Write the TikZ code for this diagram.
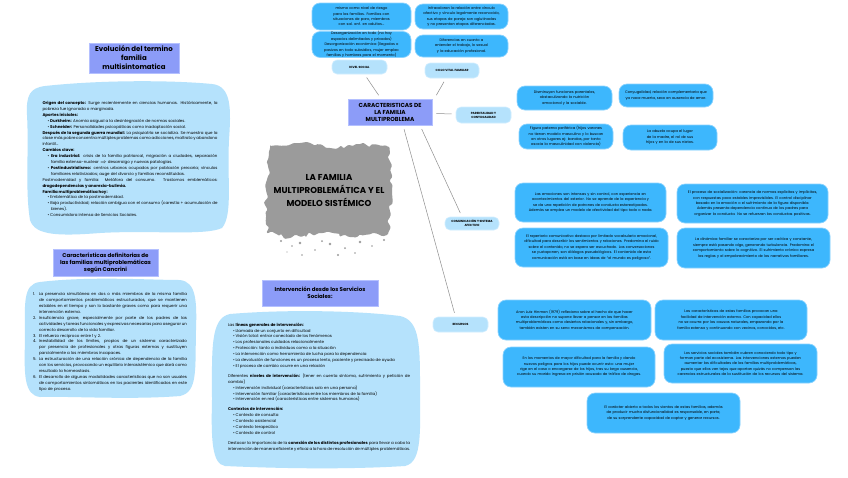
\documentclass[tikz,border=0pt]{standalone}
\usepackage{fontspec}
\setmainfont{Poppins}
\usetikzlibrary{decorations.pathmorphing}

\definecolor{peri}{HTML}{8C9CF8}
\definecolor{periedge}{HTML}{B4C0FF}
\definecolor{pale}{HTML}{B5E2FC}
\definecolor{paleedge}{HTML}{D2EEFF}
\definecolor{deep}{HTML}{3DB7FD}
\definecolor{deepedge}{HTML}{8AD3FF}
\definecolor{smoke}{HTML}{9B9B9B}
\definecolor{wire}{HTML}{8E8E8E}

\hyphenpenalty=10000
\exhyphenpenalty=10000
\tolerance=3000
\emergencystretch=8pt

\newcommand{\bul}[1]{\par{\leftskip=5pt\hangindent=3.5pt\hangafter=1\textbullet~#1\par}}
\newcommand{\nitem}[2]{\par{\hangindent=6pt\hangafter=1\makebox[6pt][l]{#1.}#2\par}}

\begin{document}
\begin{tikzpicture}[x=1pt,y=-1pt,
	titlebox/.style={fill=peri, draw=periedge, line width=0.8pt, align=center, inner sep=0pt},
	tagbox/.style={fill=pale, draw=paleedge, line width=0.6pt, rounded corners=5pt, align=center, inner sep=0pt, font=\fontsize{3}{4}\selectfont\bfseries},
	deepbox/.style={fill=deep, draw=deepedge, line width=0.7pt, rounded corners=8pt, align=center, inner sep=0pt, font=\fontsize{3.6}{5.4}\selectfont},
	blobtext/.style={align=justify, inner sep=0pt, font=\fontsize{4}{5.9}\selectfont},
	wirestyle/.style={draw=wire, line width=0.5pt, shorten >=4pt, shorten <=4pt}]
	\useasboundingbox[fill=white] (0,0) rectangle (848,477);

	% blobs
	\fill[pale] (45,86) .. controls (100,80) and (170,80) .. (212,84) .. controls (232,86) and (231,110) .. (229,140) .. controls (227,180) and (233,215) .. (222,228) .. controls (205,236) and (150,230) .. (100,233) .. controls (60,236) and (35,236) .. (30,220) .. controls (25,190) and (29,150) .. (27,115) .. controls (26,95) and (30,88) .. (45,86) -- cycle;
	\fill[pale] (40,282) .. controls (90,276) and (150,280) .. (180,280) .. controls (196,282) and (197,300) .. (196,330) .. controls (195,370) and (198,392) .. (180,396) .. controls (130,400) and (70,396) .. (40,397) .. controls (24,395) and (24,375) .. (25,340) .. controls (25,305) and (22,284) .. (40,282) -- cycle;
	\fill[pale] (230,314) .. controls (290,309) and (360,311) .. (400,316) .. controls (418,320) and (420,340) .. (420,380) .. controls (420,430) and (423,462) .. (405,466) .. controls (340,470) and (270,468) .. (225,466) .. controls (212,464) and (211,440) .. (212,400) .. controls (212,350) and (210,318) .. (230,314) -- cycle;

	\pgfmathsetseed{11}
	\fill[smoke, decorate, decoration={random steps, segment length=4pt, amplitude=2.6pt}, rounded corners=1pt] (270,146) -- (300,143) -- (330,148) -- (360,144) -- (389,147) -- (392,190) -- (388,234) -- (350,237) -- (320,233) -- (290,238) -- (267,233) -- (266,190) -- cycle;
	\foreach \sx/\sy/\sr in {281/241/1.2, 292/246/0.8, 300/243/1.4, 315/250/0.9, 330/244/1.3, 345/248/1.0, 360/242/1.4, 372/246/0.8, 338/255/1.1, 302/255/0.9, 287/252/0.7, 355/253/0.9, 384/240/1.2, 322/241/1.0}
		\fill[smoke] (\sx,\sy) circle (\sr);

	\node[font=\fontsize{8.6}{13}\selectfont\bfseries, align=center] (tema) at (329,191) {LA FAMILIA\\MULTIPROBLEMÁTICA Y EL\\MODELO SISTÉMICO};

	% left column
	\node[titlebox, minimum width=90pt, minimum height=30pt, font=\fontsize{7}{9}\selectfont\bfseries] (evol) at (134,58) {Evolución del termino\\familia\\multisintomatica};
	\node[blobtext, text width=175pt] (evoltxt) at (130,159) {\textbf{Origen del concepto:} Surge recientemente en ciencias humanas. Históricamente, la pobreza fue ignorada o marginada.\par
		\textbf{Aportes iniciales:}
		\bul{\textbf{Durkheim:} Anomia asigual a la desintegración de normas sociales.}
		\bul{\textbf{Schneider:} Personalidades psicopáticas como inadaptación social.}
		\textbf{Después de la segunda guerra mundial:} La psiquiatría se socializa. Se muestra que la clase más pobre concentra múltiples problemas como adicciones, maltrato y abandono infantil...\par
		\textbf{Cambios clave:}
		\bul{\textbf{Era industrial:} crisis de la familia patriarcal, migración a ciudades, separación familia extensa-nuclear $\Rightarrow$ desarraigo y nuevas patologías.}
		\bul{\textbf{Postindustrialismo:} centros urbanos ocupados por población precaria; vínculos familiares relativizados; auge del divorcio y familias reconstituidas.}
		Postmodernidad y familia: Metáfora del consumo. Trastornos emblemáticos: \textbf{drogodependencias y anorexia-bulimia.}\par
		\textbf{Familia multiproblemática hoy:}
		\bul{Emblemática de la postmodernidad.}
		\bul{Baja productividad; relación ambigua con el consumo (carestía + acumulación de bienes).}
		\bul{Consumidora intensa de Servicios Sociales.}};

	\node[titlebox, minimum width=105pt, minimum height=27pt, font=\fontsize{5.5}{7}\selectfont\bfseries] (cancr) at (105.5,262.5) {Características definitorias de\\las familias multiproblemáticas\\según Cancrini};
	\node[blobtext, text width=154pt] (cancrtxt) at (110,340.5) {\nitem{1}{La presencia simultánea en dos o más miembros de la misma familia de comportamientos problemáticos estructurados, que se mantienen estables en el tiempo y son lo bastante graves como para requerir una intervención externa.}
		\nitem{2}{Insuficiencia grave, especialmente por parte de los padres de las actividades y tareas funcionales y expresivas necesarias para asegurar un correcto desarrollo de la vida familiar.}
		\nitem{3}{El refuerzo recíproco entre 1 y 2.}
		\nitem{4}{Inestabilidad de los límites, propios de un sistema caracterizado por presencia de profesionales y otras figuras externas y sustituyen parcialmente a los miembros incapaces.}
		\nitem{5}{La estructuración de una relación crónica de dependencia de la familia con los servicios, provocando un equilibrio interasistémico que dará como resultado la homeostasis.}
		\nitem{6}{El desarrollo de algunas modalidades características que no son usuales de comportamientos sintomáticos en los pacientes identificados en este tipo de proceso.}};

	% intervention
	\node[titlebox, minimum width=116pt, minimum height=26pt, font=\fontsize{5.5}{7}\selectfont\bfseries] (interv) at (320,293) {Intervención desde los Servicios\\Sociales:};
	\node[blobtext, text width=182pt] (intervtxt) at (319,387) {Las \textbf{líneas generales de intervención:}
		\bul{Llamada de un conjunto en dificultad}
		\bul{Visión total: entrar conectado de los fenómenos}
		\bul{Los profesionales cuidados relacionalmente}
		\bul{Protección: tanto a individuos como a la situación}
		\bul{La intervención como herramienta de lucha para la dependencia}
		\bul{La devolución de funciones es un proceso lento, paciente y precisado de ayuda}
		\bul{El proceso de cambio ocurre en una relación}
		\vspace{4pt}Diferentes \textbf{niveles de intervención:} (tener en cuenta síntoma, sufrimiento y petición de cambio)
		\bul{Intervención individual (características solo en una persona)}
		\bul{Intervención familiar (características entre los miembros de la familia)}
		\bul{Intervención en red (características entre sistemas humanos)}
		\vspace{4pt}\textbf{Contextos de intervención:}
		\bul{Contexto de consulta}
		\bul{Contexto asistencial}
		\bul{Contexto terapeútico}
		\bul{Contexto de control}
		\vspace{4pt}Destacar la importancia de la \textbf{conexión de los distintos profesionales} para llevar a cabo la intervención de manera eficiente y eficaz a la hora de resolución de múltiples problemáticas.};

	% centre of the map
	\node[titlebox, minimum width=84pt, minimum height=26pt, font=\fontsize{5.8}{7}\selectfont\bfseries] (caract) at (390,112) {CARACTERISTICAS DE\\LA FAMILIA\\MULTIPROBLEMA};

	\node[tagbox, minimum width=55pt, minimum height=14pt] (nivel) at (359.5,67) {NIVEL SOCIAL};
	\node[tagbox, minimum width=54pt, minimum height=15pt] (ciclo) at (452,70.5) {CICLO VITAL FAMILIAR};
	\node[tagbox, minimum width=55pt, minimum height=16pt] (parent) at (483.5,115) {PARENTALIDAD Y\\CONYUGALIDAD};
	\node[tagbox, minimum width=54pt, minimum height=13pt] (comun) at (472,223.5) {COMUNICACIÓN Y SISTEMA\\AFECTIVO};
	\node[tagbox, minimum width=55pt, minimum height=15pt] (recur) at (460.5,324.5) {RECURSOS};

	\draw[wirestyle] (nivel) -- (caract);
	\draw[wirestyle] ([xshift=-6pt]ciclo.south) -- ([xshift=2pt]caract.north east);
	\draw[wirestyle] (caract) -- (parent);
	\draw[wirestyle] ([xshift=30pt]caract.south) -- ([xshift=-10pt]comun.north);
	\draw[wirestyle] ([xshift=13pt]caract.south) -- ([xshift=-5pt]recur.north);

	% nivel social / ciclo vital
	\node[deepbox, minimum width=99pt, minimum height=27pt, text width=74pt] (socA) at (361.5,16.5) {mismo como nivel de riesgo para las familias. Familias con situaciones de paro, miembros con sal. enf. en adultos...};
	\node[deepbox, minimum width=99pt, minimum height=25pt, text width=86pt] (socB) at (361.5,44.5) {Desorganización en todo (no hay espacios delimitados y privados) Desorganización económica (llegadas o pasivos en todo subsidios, mujer empleo familias y hombres para el momento)};
	\node[deepbox, minimum width=93pt, minimum height=25pt, text width=84pt] (cicA) at (461.5,16.5) {Infravaloran la relación entre vínculo afectivo y vínculo legalmente reconocido, sus etapas de pareja son aglutinadas y no presentan etapas diferenciadas.};
	\node[deepbox, minimum width=93pt, minimum height=22pt, text width=80pt] (cicB) at (461.5,46) {Diferencias en cuanto a entender el trabajo, lo sexual y la educación profesional.};

	% parentalidad
	\node[deepbox, minimum width=95pt, minimum height=24pt, text width=74pt] (parA) at (564.5,98) {Disminuyen funciones parentales, obstaculizando la nutrición emocional y la sociable.};
	\node[deepbox, minimum width=94pt, minimum height=23pt, text width=82pt] (parB) at (666,95.5) {Conyugalidad, relación complementaria que ya nace muerta, sexo en ausencia de amor.};
	\node[deepbox, minimum width=94pt, minimum height=25pt, text width=76pt] (parC) at (566,136.5) {Figura paterna periférica (hijos varones no tienen modelo masculino y lo buscan en otros lugares ej: bandas, por tanto asocia la masculinidad con violencia)};
	\node[deepbox, minimum width=94pt, minimum height=25pt, text width=70pt] (parD) at (670,137.5) {La abuela ocupa el lugar de la madre, el rol de sus hijos y en la de sus nietos.};

	% comunicacion
	\node[deepbox, minimum width=151pt, minimum height=39pt, text width=126pt] (comA) at (590.5,202.5) {Las emociones son intensas y sin control, con experiencia en acontecimientos del exterior. No se aprende de la experiencia y se da una repetición de patrones de conducta estereotipados. Además se emplea un modelo de afectividad del tipo todo o nada.};
	\node[deepbox, minimum width=153pt, minimum height=39pt, text width=142pt] (comB) at (591.5,247.5) {El repertorio comunicativo destaca por limitado vocabulario emocional, dificultad para describir los sentimientos y relaciones. Predomina el ruido sobre el contenido, no se espera ser escuchado. Las conversaciones se yuxtaponen, son diálogos pseudológicos. El contenido de esta comunicación está en base en ideas de “el mundo es peligroso”.};
	\node[deepbox, minimum width=151pt, minimum height=39pt, text width=138pt] (comC) at (752.5,203.5) {El proceso de socialización: carencia de normas explícitas y implícitas, con respuestas poco estables imprevisibles. El control disciplinar basado en la emoción o el sufrimiento de la figura disponible. Además presenta dependencia continua de los padres para organizar la conducta. No se refuerzan las conductas positivas.};
	\node[deepbox, minimum width=153pt, minimum height=40pt, text width=134pt] (comD) at (753.5,248) {La dinámica familiar se caracteriza por ser caótica y constante, siempre está pasando algo, generando turbulencia. Predomina el comportamiento sobre lo cognitivo. El sufrimiento crónico expresa las reglas y el empobrecimiento de las narrativas familiares.};

	% recursos
	\node[deepbox, minimum width=153pt, minimum height=40pt, text width=132pt] (recA) at (574.5,320) {Aron Lutz Hinman (1979) reflexiona sobre el hecho de que hacer esta descripción no supone llevar a pensar en las familias multiproblemáticas como desiertos relacionales y, sin embargo, también existen en su seno mecanismos de compensación.};
	\node[deepbox, minimum width=152pt, minimum height=40pt, text width=126pt] (recB) at (731,320) {Las características de estas familias provocan una facilidad de intervención externa. Con capacidad ellos no se ocurra por las causas naturales, empezando por la familia extensa y continuando con vecinos, conocidos, etc.};
	\node[deepbox, minimum width=152pt, minimum height=40pt, text width=136pt] (recC) at (579,367) {En los momentos de mayor dificultad para la familia y dando nuevos peligros para los hijos puede ocurrir esto: una mujer rige en el caso o encargarse de los hijos, tras su largo ausencia, cuando su marido ingresa en prisión acusado de tráfico de drogas.};
	\node[deepbox, minimum width=153pt, minimum height=39pt, text width=142pt] (recD) at (740.5,363.5) {Los servicios sociales también cubren conociendo todo tipo y forman parte del ecosistema. Las intervenciones externas pueden aumentar las dificultades de las familias multiproblemáticas, puesto que ellos ven tejos que aportan quizás no compensan las carencias estructurales de la sustitución de los recursos del sistema.};
	\node[deepbox, minimum width=153pt, minimum height=40pt, text width=122pt] (recE) at (663.5,413) {El carácter abierto a todos los vientos de estas familias, además de producir mucha disfuncionalidad es responsable, en parte, de su sorprendente capacidad de captar y generar recursos.};
\end{tikzpicture}
\end{document}
